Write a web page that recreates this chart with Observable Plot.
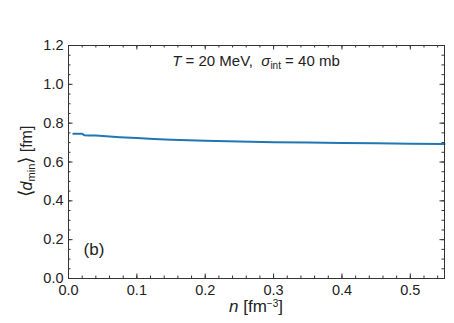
<!DOCTYPE html>
<html><head><meta charset="utf-8">
<script src="https://cdn.jsdelivr.net/npm/d3@7"></script>
<script src="https://cdn.jsdelivr.net/npm/@observablehq/plot@0.6"></script>
<style>body{margin:0;background:#fff}</style>
</head><body><div id="chart"></div>
<script>
// data
const density = [0.007, 0.015, 0.020, 0.023, 0.030, 0.040, 0.050, 0.075, 0.100, 0.125, 0.150, 0.200, 0.250, 0.300, 0.350, 0.400, 0.450, 0.500, 0.550];
const dmin    = [0.746, 0.746, 0.745, 0.738, 0.737, 0.736, 0.734, 0.728, 0.723, 0.719, 0.715, 0.709, 0.705, 0.702, 0.700, 0.698, 0.696, 0.694, 0.693];
const xMajor = [0, 0.1, 0.2, 0.3, 0.4, 0.5];
const xMinor = d3.range(0, 0.5401, 0.02);
const yMajor = [0, 0.2, 0.4, 0.6, 0.8, 1.0, 1.2];
const yMinor = d3.range(0, 1.2001, 0.05);
const titleText = ["T", " = 20 MeV,  ", "σ", "int", " = 40 mb"];
const panelLabel = "(b)";

const W = 454, H = 323, ml = 68, mr = 10, mt = 45, mb = 45;
const pw = W - ml - mr, ph = H - mt - mb;
const rows = density.map((n, i) => ({n, d: dmin[i]}));
const tc = "#333";

const plot = Plot.plot({
  width: W, height: H,
  marginLeft: ml, marginRight: mr, marginTop: mt, marginBottom: mb,
  style: {fontFamily: "Liberation Sans", fontSize: "14.5px", background: "#fff", color: "#222"},
  x: {domain: [0, 0.55]},
  y: {domain: [0, 1.2]},
  marks: [
    Plot.tickX(xMinor, {x: d => d, insetTop: ph - 2.5, stroke: tc}),
    Plot.tickX(xMinor, {x: d => d, insetBottom: ph - 2.5, stroke: tc}),
    Plot.tickX(xMajor, {x: d => d, insetTop: ph - 4.5, stroke: tc}),
    Plot.tickX(xMajor, {x: d => d, insetBottom: ph - 4.5, stroke: tc}),
    Plot.tickY(yMinor, {y: d => d, insetRight: pw - 2.5, stroke: tc}),
    Plot.tickY(yMinor, {y: d => d, insetLeft: pw - 2.5, stroke: tc}),
    Plot.tickY(yMajor, {y: d => d, insetRight: pw - 4.5, stroke: tc}),
    Plot.tickY(yMajor, {y: d => d, insetLeft: pw - 4.5, stroke: tc}),
    Plot.axisX({ticks: xMajor, tickSize: 0, tickPadding: 6, tickFormat: ".1f", label: null, fill: "#222"}),
    Plot.axisY({ticks: yMajor, tickSize: 0, tickPadding: 5, tickFormat: ".1f", label: null, fill: "#222"}),
    Plot.line(rows, {x: "n", y: "d", stroke: "#1f77b4", strokeWidth: 2}),
    Plot.frame({stroke: tc})
  ]
});
document.getElementById("chart").appendChild(plot);

const svg = d3.select(plot);
const ff = "Liberation Sans";
// x label
const xl = svg.append("text").attr("x", ml + pw / 2).attr("y", 312)
  .attr("text-anchor", "middle").attr("font-family", ff).attr("font-size", 17).attr("fill", "#222");
xl.append("tspan").attr("font-style", "italic").text("n");
xl.append("tspan").text(" [fm");
xl.append("tspan").attr("font-size", 10).attr("dy", -5).text("−3");
xl.append("tspan").attr("dy", 5).text("]");
// y label
const yl = svg.append("text").attr("transform", `translate(32,${mt + ph / 2}) rotate(-90)`)
  .attr("text-anchor", "middle").attr("font-family", ff).attr("font-size", 16).attr("fill", "#222");
yl.append("tspan").attr("font-size", 19).text("⟨");
yl.append("tspan").attr("font-style", "italic").text("d");
yl.append("tspan").attr("font-size", 11).attr("dy", 3).text("min");
yl.append("tspan").attr("dy", -3).attr("font-size", 19).text("⟩");
yl.append("tspan").text(" [fm]");
// title annotation
const tt = svg.append("text").attr("x", ml + pw / 2).attr("y", 66)
  .attr("text-anchor", "middle").attr("font-family", ff).attr("font-size", 15).attr("fill", "#222");
tt.append("tspan").attr("font-style", "italic").text(titleText[0]);
tt.append("tspan").text(titleText[1]);
tt.append("tspan").attr("font-style", "italic").text(titleText[2]);
tt.append("tspan").attr("font-size", 10).attr("dy", 3).text(titleText[3]);
tt.append("tspan").attr("dy", -3).text(titleText[4]);
// panel label
svg.append("text").attr("x", 94).attr("y", 255).attr("font-family", ff).attr("font-size", 17)
  .attr("fill", "#222").text(panelLabel);
</script>
</body></html>
